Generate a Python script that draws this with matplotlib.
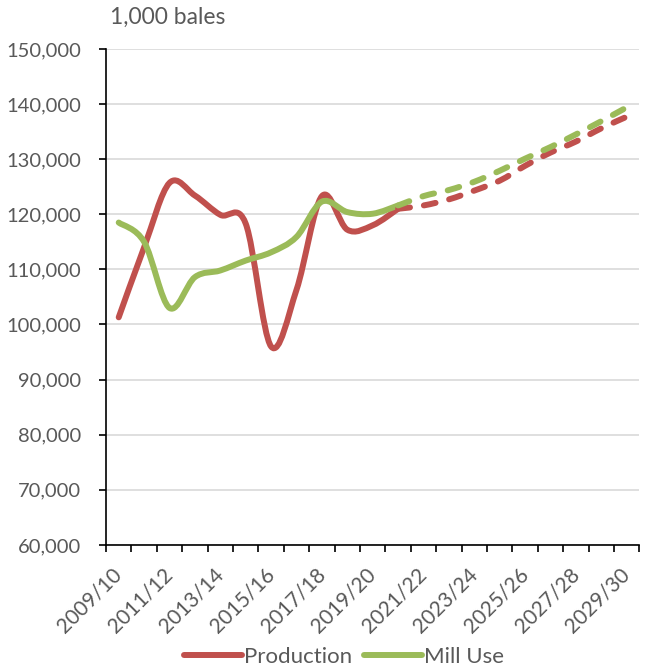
import matplotlib
matplotlib.use("Agg")
import matplotlib.pyplot as plt
import numpy as np
from matplotlib.lines import Line2D
from matplotlib.patches import PathPatch
from matplotlib.path import Path
from matplotlib.ticker import FuncFormatter
from matplotlib.transforms import ScaledTranslation

plt.rcParams["font.family"] = ["Lato", "DejaVu Sans"]

seasons = [f"{y}/{str(y + 1)[-2:]}" for y in range(2009, 2030)]

# history (solid) runs 2009/10 - 2020/21, projection (dashed) 2020/21 - 2029/30
production_hist = [101300, 114000, 125700, 123400, 119900, 118300, 96000,
                   106300, 123300, 117200, 118000, 121000]
mill_use_hist = [118500, 115000, 103000, 108600, 109800, 111600, 113100,
                 115900, 122300, 120400, 120100, 121600]
production_proj = [121000, 121600, 122700, 124300, 126100, 128800, 131200,
                   133200, 135600, 137700]
mill_use_proj = [121600, 123300, 124400, 125900, 127900, 130100, 132200,
                 134500, 136900, 139400]

RED = "#C0504D"
GREEN = "#9BBB59"
TEXT = "#595959"


def smooth_path(xs, ys):
    # Excel-style smoothed line: Catmull-Rom as cubic Bezier segments
    pts = np.column_stack([xs, ys]).astype(float)
    n = len(pts)
    verts = [pts[0]]
    codes = [Path.MOVETO]
    for i in range(n - 1):
        p0 = pts[max(i - 1, 0)]
        p1 = pts[i]
        p2 = pts[i + 1]
        p3 = pts[min(i + 2, n - 1)]
        verts += [p1 + (p2 - p0) / 6, p2 - (p3 - p1) / 6, p2]
        codes += [Path.CURVE4] * 3
    return Path(verts, codes)


fig = plt.figure(figsize=(6.52, 6.69), dpi=100)
ax = fig.add_axes([0.1626, 0.1855, 0.8181, 0.7413])

lw = 4.3
dash = (0, (2.0, 2.35))
x_hist = np.arange(len(production_hist))
x_proj = np.arange(len(production_proj)) + len(production_hist) - 1

for xs, ys, color, style in [
    (x_hist, production_hist, RED, "-"),
    (x_hist, mill_use_hist, GREEN, "-"),
    (x_proj, production_proj, RED, dash),
    (x_proj, mill_use_proj, GREEN, dash),
]:
    patch = PathPatch(smooth_path(xs, ys), fill=False, edgecolor=color,
                      linewidth=lw, linestyle=style, capstyle="round",
                      joinstyle="round", zorder=3)
    ax.add_patch(patch)

ax.set_xlim(-0.5, len(seasons) - 0.5)
ax.set_ylim(60000, 150000)
ax.set_yticks(np.arange(60000, 150001, 10000))
ax.yaxis.set_major_formatter(FuncFormatter(lambda v, _: f"{int(v):,}"))
ax.grid(axis="y", color="#D9D9D9", linewidth=1.2, zorder=0)
ax.set_axisbelow(True)

ax.set_xticks(np.arange(-0.5, len(seasons)), minor=False)
ax.set_xticklabels([])
ax.set_xticks(np.arange(0, len(seasons), 2), minor=True)
ax.set_xticklabels(seasons[::2], minor=True, rotation=45, ha="right",
                   rotation_mode="anchor", fontsize=15, color=TEXT)
ax.tick_params(axis="x", which="minor", length=0, pad=14)
ax.tick_params(axis="x", which="major", length=5, width=1.2, color="black",
               direction="out")
ax.tick_params(axis="y", length=5, width=1.2, color="black", pad=13,
               labelsize=14.5, labelcolor=TEXT)
shift = ScaledTranslation(-7 / 100, 0, fig.dpi_scale_trans)
for lab in ax.get_xticklabels(minor=True):
    lab.set_transform(lab.get_transform() + shift)

for side in ["top", "right"]:
    ax.spines[side].set_visible(False)
for side in ["left", "bottom"]:
    ax.spines[side].set_color("black")
    ax.spines[side].set_linewidth(1.2)

fig.text(110 / 652, 1 - 17 / 669, "1,000 bales", fontsize=16.5, color=TEXT,
         ha="left", va="center")

handles = [Line2D([], [], color=RED, linewidth=lw, solid_capstyle="round"),
           Line2D([], [], color=GREEN, linewidth=lw, solid_capstyle="round")]
fig.legend(handles, ["Production", "Mill Use"], loc="center",
           bbox_to_anchor=(0.528, 1 - 657 / 669), ncol=2, frameon=False,
           fontsize=16, labelcolor=TEXT, handlelength=2.6,
           handletextpad=0.1, columnspacing=0.55)

fig.savefig("out.png", dpi=100)
